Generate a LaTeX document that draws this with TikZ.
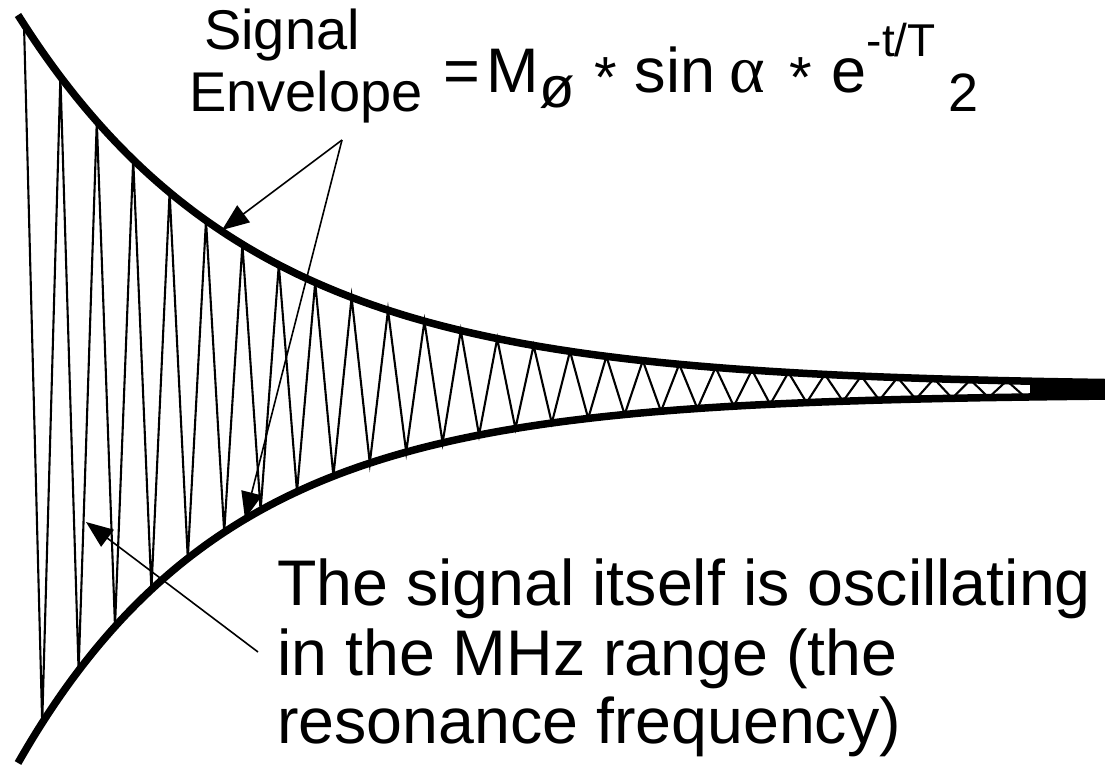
\documentclass[tikz,border=0pt]{standalone}
\usepackage{fontspec}
\setmainfont{Liberation Sans}
\newfontfamily\grfont{Liberation Serif}
\usetikzlibrary{arrows.meta}
\begin{document}
\begin{tikzpicture}[x=1pt,y=-1pt,
  env/.style={line width=7.5pt},
  wave/.style={line width=2.1pt, line join=miter},
  ptr/.style={line width=1.6pt, -{Triangle[length=27pt,width=21pt]}},
  lbl/.style={inner sep=0pt, anchor=base west},
  declare function={up(\x)=386-371*exp(-(\x-18)/233); lo(\x)=394+369*exp(-(\x-18)/210);}
]
\useasboundingbox (0,0) rectangle (1105,765);
% envelopes
\draw[env] plot[domain=18:1105, samples=150, smooth] (\x,{up(\x)});
\draw[env] plot[domain=18:1105, samples=150, smooth] (\x,{lo(\x)});
% oscillating signal
\draw[wave] (24,{up(24)}) \foreach \k in {0,...,27} { -- ({24+36.4*\k},{up(24+36.4*\k)}) -- ({42.2+36.4*\k},{lo(42.2+36.4*\k)}) };
\fill (1030,380) rectangle (1105,400);
% labels
\node[lbl, font=\fontsize{56}{56}\selectfont] (sig1) at (204,50) {Signal};
\node[lbl, font=\fontsize{56}{56}\selectfont] (sig2) at (189,112) {Envelope};
\node[lbl, font=\fontsize{63}{63}\selectfont] (formula) at (443,93) {=\hspace{7pt}M\raisebox{-15pt}{\fontsize{58}{58}\selectfont ø}\hspace{20pt}\raisebox{-5pt}{\fontsize{58}{58}\selectfont *}\hspace{17.5pt}sin\hspace{13.5pt}{\fontsize{68}{68}\grfont α}\hspace{25pt}\raisebox{-5pt}{\fontsize{58}{58}\selectfont *}\hspace{19.5pt}e\raisebox{36pt}{\fontsize{46}{46}\selectfont -t/T}\hspace{13pt}\raisebox{-19pt}{\fontsize{54}{54}\selectfont 2}};
\node[lbl, font=\fontsize{64.5}{64.5}\selectfont] (txt1) at (277,605) {The signal itself is oscillating};
\node[lbl, font=\fontsize{64.5}{64.5}\selectfont] (txt2) at (277,675) {in the MHz range (the};
\node[lbl, font=\fontsize{64.5}{64.5}\selectfont] (txt3) at (277,743) {resonance frequency)};
% arrows
\coordinate (envsrc) at (342,140);
\coordinate (tipU) at (222,230);
\coordinate (tipL) at (245,519);
\coordinate (sigsrc) at (258,652);
\coordinate (tipS) at (86,522);
\draw[ptr] (envsrc) -- (tipU);
\draw[ptr] (envsrc) -- (tipL);
\draw[ptr] (sigsrc) -- (tipS);
\end{tikzpicture}
\end{document}
